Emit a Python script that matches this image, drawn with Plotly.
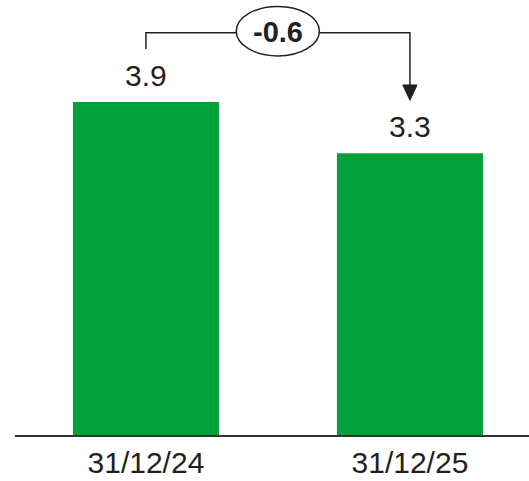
import plotly.graph_objects as go

# Data
categories = ["31/12/24", "31/12/25"]
values = [3.9, 3.3]
change_label = "-0.6"

GREEN = "#00A03A"
INK = "#231F20"
FONT = "Arial, Liberation Sans, Helvetica, sans-serif"

x_pos = list(range(len(categories)))

fig = go.Figure(
    go.Bar(
        x=x_pos,
        y=values,
        width=0.553,
        marker=dict(color=GREEN, line=dict(width=0)),
        hoverinfo="skip",
    )
)

# Value labels above each bar
for xi, v in zip(x_pos, values):
    fig.add_annotation(
        x=xi, y=v, text=f"{v:.1f}", showarrow=False,
        yanchor="bottom", yshift=8,
        font=dict(family=FONT, size=30, color=INK),
    )

# Change bracket from the first bar to the second
gap = 0.62
top = max(values) + 0.81
left_end = values[0] + gap
tip = values[1] + gap
head_h = 0.18
head_w = 0.027
line_style = dict(color=INK, width=1.5)

fig.add_shape(
    type="path",
    path=f"M {x_pos[0]},{left_end} L {x_pos[0]},{top} L {x_pos[1]},{top} L {x_pos[1]},{tip + head_h}",
    line=line_style, xref="x", yref="y",
)
fig.add_shape(
    type="path",
    path=f"M {x_pos[1] - head_w},{tip + head_h} L {x_pos[1] + head_w},{tip + head_h} L {x_pos[1]},{tip} Z",
    line=dict(color=INK, width=1), fillcolor=INK, xref="x", yref="y",
)

# Ellipse holding the change value
mid = (x_pos[0] + x_pos[1]) / 2
fig.add_shape(
    type="circle", xref="x", yref="y",
    x0=mid - 0.158, x1=mid + 0.157,
    y0=top - 0.27, y1=top + 0.31,
    line=line_style, fillcolor="white",
)
fig.add_annotation(
    x=mid, y=top, text=f"<b>{change_label}</b>", showarrow=False,
    font=dict(family=FONT, size=29, color=INK), yshift=1,
)

fig.update_layout(
    width=529, height=481,
    margin=dict(l=15, r=0, t=0, b=46),
    paper_bgcolor="white", plot_bgcolor="white",
    showlegend=False,
    xaxis=dict(
        range=[-0.496, 1.451],
        tickmode="array", tickvals=x_pos, ticktext=categories,
        tickfont=dict(family=FONT, size=30, color=INK),
        showline=True, linecolor="#333333", linewidth=1.5,
        showgrid=False, zeroline=False, ticks="",
        fixedrange=True,
    ),
    yaxis=dict(
        range=[0, 5.095], visible=False, fixedrange=True,
    ),
)

fig.write_html("out.html")
